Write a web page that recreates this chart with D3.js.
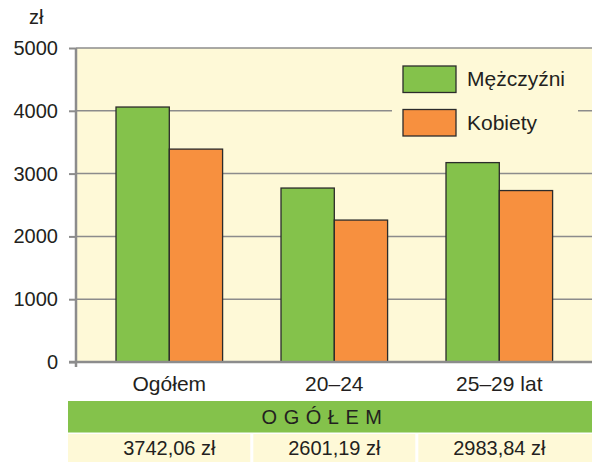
<!DOCTYPE html>
<html>
<head>
<meta charset="utf-8">
<script src="https://d3js.org/d3.v7.min.js"></script>
<style>
  body { margin: 0; background: #fff; }
  text { font-family: "Liberation Sans", Arial, sans-serif; fill: #231f20; }
</style>
</head>
<body>
<script>
var categories = ["Ogółem", "20–24", "25–29 lat"];
var series = ["Mężczyźni", "Kobiety"];
var men = [4060, 2770, 3175];
var women = [3390, 2260, 2730];
var totals = ["3742,06 zł", "2601,19 zł", "2983,84 zł"];
var yTicks = [0, 1000, 2000, 3000, 4000, 5000];
var colors = ["#84c24b", "#f7903f"];

var W = 592, H = 462;
var pLeft = 76, pRight = 592, pTop = 48, pBottom = 362;
var fs = "20px", fsL = "21px";

var svg = d3.select("body").append("svg")
    .attr("width", W).attr("height", H);

var y = d3.scaleLinear().domain([0, 5000]).range([pBottom, pTop]);
var x = d3.scaleBand().domain(categories).range([86.8, 581.8]).padding(0);
var bw = x.bandwidth();
var x1 = d3.scaleBand().domain(series).range([bw * 0.177, bw * 0.823]);

// plot background
svg.append("rect")
    .attr("x", pLeft).attr("y", pTop)
    .attr("width", pRight - pLeft).attr("height", pBottom - pTop)
    .attr("fill", "#fef9d7");

// gridlines
svg.selectAll(".grid").data(yTicks.slice(1)).enter().append("line")
    .attr("x1", pLeft).attr("x2", pRight)
    .attr("y1", function(d) { return y(d); })
    .attr("y2", function(d) { return y(d); })
    .attr("stroke", "#8c8c8c").attr("stroke-width", 1.5);

// legend box hides the gridline behind it
svg.append("rect")
    .attr("x", 392).attr("y", 56).attr("width", 186).attr("height", 90)
    .attr("fill", "#fef9d7");

// bars
var data = categories.map(function(c, i) {
  return { cat: c, vals: [{ s: series[0], v: men[i] }, { s: series[1], v: women[i] }] };
});
var g = svg.selectAll(".grp").data(data).enter().append("g")
    .attr("transform", function(d) { return "translate(" + x(d.cat) + ",0)"; });
g.selectAll("rect").data(function(d) { return d.vals; }).enter().append("rect")
    .attr("x", function(d) { return x1(d.s); })
    .attr("width", x1.bandwidth())
    .attr("y", function(d) { return y(d.v); })
    .attr("height", function(d) { return pBottom - y(d.v); })
    .attr("fill", function(d, i) { return colors[i]; })
    .attr("stroke", "#2b2b2b").attr("stroke-width", 1.3);

// y axis
var yAxis = d3.axisLeft(y).tickValues(yTicks).tickFormat(d3.format("d"))
    .tickSize(7).tickPadding(11);
var ya = svg.append("g").attr("transform", "translate(" + pLeft + ",0)").call(yAxis);
ya.select(".domain").remove();
ya.selectAll(".tick line").attr("stroke", "#8c8c8c").attr("stroke-width", 2);
ya.selectAll(".tick text").style("font-size", fs).attr("fill", "#231f20")
    .style("font-family", "Liberation Sans, Arial, sans-serif");
svg.append("line").attr("x1", pLeft).attr("x2", pLeft).attr("y1", pTop).attr("y2", pBottom + 5)
    .attr("stroke", "#8c8c8c").attr("stroke-width", 2.5);
svg.append("line").attr("x1", pLeft - 7).attr("x2", pRight).attr("y1", pBottom).attr("y2", pBottom)
    .attr("stroke", "#8c8c8c").attr("stroke-width", 2.5);

svg.append("text").attr("x", 29).attr("y", 24).style("font-size", fs).text("zł");

// x labels
svg.selectAll(".xl").data(categories).enter().append("text")
    .attr("x", function(d) { return x(d) + bw / 2; })
    .attr("y", 391)
    .attr("text-anchor", "middle")
    .style("font-size", fsL)
    .text(function(d) { return d; });

// legend
series.forEach(function(s, i) {
  svg.append("rect").attr("x", 403).attr("y", 66 + i * 43.5)
      .attr("width", 53).attr("height", 26.5)
      .attr("fill", colors[i]).attr("stroke", "#2b2b2b").attr("stroke-width", 1.3);
  svg.append("text").attr("x", 467).attr("y", 86 + i * 43.5)
      .style("font-size", fsL).text(s);
});

// table
svg.append("rect").attr("x", 68).attr("y", 401).attr("width", W - 68).attr("height", 31.5)
    .attr("fill", "#84c24b");
svg.append("text").attr("x", 325).attr("y", 424).attr("text-anchor", "middle")
    .style("font-size", fs).style("letter-spacing", "6.5px").text("OGÓŁEM");

var edges = categories.map(function(c, i) {
  var x0 = i === 0 ? 68 : x(c) + 1.5;
  var xe = i === categories.length - 1 ? W : x(c) + bw - 1.5;
  return [x0, xe];
});
svg.selectAll(".cell").data(categories).enter().append("rect")
    .attr("x", function(d, i) { return edges[i][0]; })
    .attr("width", function(d, i) { return edges[i][1] - edges[i][0]; })
    .attr("y", 434).attr("height", H - 434)
    .attr("fill", "#fef9d7");
svg.selectAll(".tot").data(totals).enter().append("text")
    .attr("x", function(d, i) { return x(categories[i]) + bw / 2; })
    .attr("y", 455)
    .attr("text-anchor", "middle")
    .style("font-size", fs)
    .text(function(d) { return d; });
</script>
</body>
</html>
